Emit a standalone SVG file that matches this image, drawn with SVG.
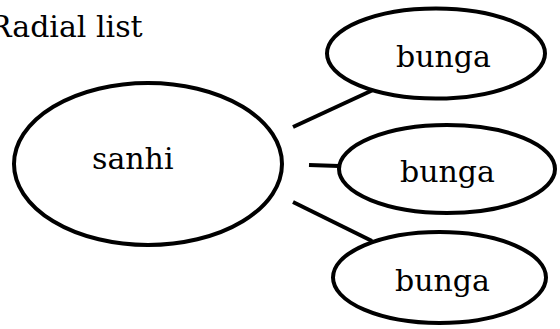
<svg xmlns="http://www.w3.org/2000/svg" width="560" height="329" viewBox="0 0 560 329">
<style>
.node{fill:#fff;stroke:#000;stroke-width:4}
.lbl{font-family:"DejaVu Serif","Liberation Serif",serif;font-size:30px;fill:#000}
.edge{stroke:#000;stroke-width:4;fill:none}
</style>
<rect width="560" height="329" fill="#fff"/>
<text class="lbl" x="-11" y="37">Radial list</text>
<g id="connectors">
<line class="edge" x1="293" y1="127" x2="373" y2="90"/>
<line class="edge" x1="309" y1="165" x2="339" y2="166"/>
<line class="edge" x1="293" y1="202" x2="372" y2="241"/>
</g>
<g id="node-sanhi">
<ellipse class="node" cx="148" cy="164" rx="134" ry="81"/>
<text class="lbl" x="92" y="169">sanhi</text>
</g>
<g id="node-bunga-1">
<ellipse class="node" cx="436" cy="53.5" rx="109" ry="45"/>
<text class="lbl" x="396" y="67">bunga</text>
</g>
<g id="node-bunga-2">
<ellipse class="node" cx="447" cy="169" rx="108" ry="44"/>
<text class="lbl" x="400" y="182">bunga</text>
</g>
<g id="node-bunga-3">
<ellipse class="node" cx="439.5" cy="277.5" rx="106.5" ry="45.5"/>
<text class="lbl" x="395" y="291">bunga</text>
</g>
</svg>
